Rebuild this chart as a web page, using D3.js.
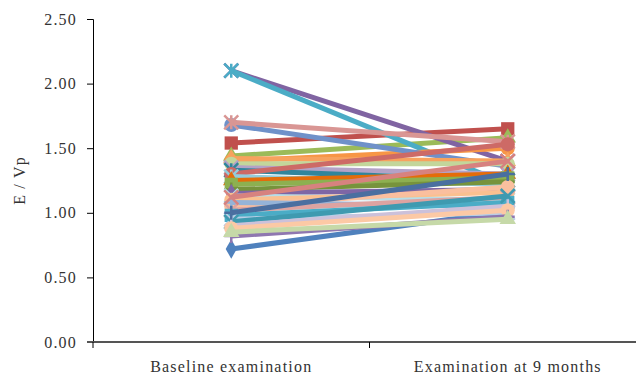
<!DOCTYPE html>
<html lang="en">
<head>
<meta charset="utf-8">
<script src="https://d3js.org/d3.v7.min.js"></script>
<style>
  body { margin: 0; background: #fff; }
  text { font-family: "Liberation Serif", "DejaVu Serif", serif; fill: #333; }
</style>
</head>
<body>
<div id="chart"></div>
<script>
// categories and tick labels
const categories = ["Baseline examination", "Examination at 9 months"];
const yTicks = [0, 0.5, 1.0, 1.5, 2.0, 2.5];

// one pair of values per patient: [baseline, 9 months]
const baseline = [0.72, 1.54, 1.44, 2.10, 2.10, 1.40, 1.68, 1.70, 1.42, 1.38,
                  1.35, 1.33, 1.30, 1.28, 1.25, 1.22, 1.18, 1.15, 1.13, 1.10,
                  1.05, 1.08, 1.02, 0.98, 0.95, 0.93, 0.90, 0.88, 0.82, 0.85,
                  1.00, 1.12];
const month9   = [1.01, 1.65, 1.58, 1.40, 1.22, 1.50, 1.36, 1.55, 1.40, 1.38,
                  1.30, 1.25, 1.53, 1.22, 1.30, 1.27, 1.24, 1.18, 1.10, 1.16,
                  1.20, 1.05, 1.12, 1.08, 1.00, 1.13, 1.05, 1.02, 0.97, 0.95,
                  1.30, 1.40];
const colors   = ["#4F81BD", "#C0504D", "#9BBB59", "#8064A2", "#4BACC6", "#F79646", "#6F91C9", "#D99694",
                  "#F7A25E", "#C3D69B", "#B3A2C7", "#31859C", "#CD6A66", "#93CDDD", "#E46C0A", "#8DB050",
                  "#77933C", "#7E66A5", "#B7DEE8", "#FAC090", "#FABF9E", "#95B3D7", "#DDA3A1", "#4BACC6",
                  "#B9CDE5", "#3F9AB0", "#CCC1DA", "#FCC9A5", "#8F77B0", "#C6D9A8", "#4A6FA0", "#D7827F"];
const markers  = ["diamond", "square", "triangle", "x", "star", "circle", "circle", "star",
                  "triangle", "circle", "x", "star", "circle", "star", "triangle", "square",
                  "plus", "diamond", "x", "circle", "circle", "plus", "x", "square",
                  "star", "x", "plus", "circle", "plus", "triangle", "plus", "x"];

const width = 636, height = 376;
const margin = {left: 93, top: 19, bottom: 34};

const svg = d3.select("#chart").append("svg")
  .attr("width", width).attr("height", height);

const x = d3.scaleBand().domain(categories).range([93, 646]);
const y = d3.scaleLinear().domain([0, 2.5]).range([height - margin.bottom, margin.top]);
const cx = c => x(c) + x.bandwidth() / 2;

// y axis
const yAxis = svg.append("g").attr("transform", `translate(${margin.left},0)`)
  .call(d3.axisLeft(y).tickValues(yTicks).tickFormat(d3.format(".2f")).tickSize(6).tickPadding(10));
yAxis.select(".domain").attr("stroke", "#000").attr("stroke-width", 1);
yAxis.selectAll(".tick line").attr("stroke", "#000");
yAxis.selectAll("text").style("font-size", "16px").style("letter-spacing", "1.2px");

// x axis
const xAxis = svg.append("g").attr("transform", `translate(0,${y(0)})`);
xAxis.append("line").attr("x1", margin.left - 6).attr("x2", width)
  .attr("stroke", "#555").attr("stroke-width", 2);
xAxis.selectAll(".tk").data([x.range()[0], x(categories[1]), x.range()[1]])
  .join("line").attr("x1", d => d).attr("x2", d => d).attr("y1", 0).attr("y2", 6)
  .attr("stroke", "#000");
xAxis.selectAll(".cat").data(categories).join("text")
  .attr("x", d => cx(d)).attr("y", 30).attr("text-anchor", "middle")
  .style("font-size", "16px").style("letter-spacing", "1.2px")
  .text(d => d);

// y label
svg.append("text")
  .attr("transform", `translate(25,${(y(0) + y(2.5)) / 2}) rotate(-90)`)
  .attr("text-anchor", "middle")
  .style("font-size", "16px").style("letter-spacing", "1.2px")
  .text("E / Vp");

// markers
function markerPath(type, s) {
  const h = s / 2;
  switch (type) {
    case "diamond": return d3.symbol(d3.symbolDiamond, s * s * 0.55)();
    case "square": return d3.symbol(d3.symbolSquare, s * s * 0.9)();
    case "triangle": return d3.symbol(d3.symbolTriangle, s * s * 0.6)();
    case "circle": return d3.symbol(d3.symbolCircle, s * s * 0.8)();
    case "x": return `M${-h},${-h}L${h},${h}M${-h},${h}L${h},${-h}`;
    case "plus": return `M${-h},0L${h},0M0,${-h}L0,${h}`;
    case "star": return `M${-h},${-h}L${h},${h}M${-h},${h}L${h},${-h}M0,${-h}L0,${h}`;
  }
}

const series = baseline.map((b, i) => ({
  values: [b, month9[i]], color: colors[i], marker: markers[i]
}));

const line = d3.line().x((d, j) => cx(categories[j])).y(d => y(d));

const g = svg.append("g");
series.forEach(s => {
  const sg = g.append("g");
  sg.append("path").attr("d", line(s.values))
    .attr("fill", "none").attr("stroke", s.color).attr("stroke-width", 5);
  const open = s.marker === "x" || s.marker === "plus" || s.marker === "star";
  sg.selectAll("path.m").data(s.values).join("path").attr("class", "m")
    .attr("transform", (d, j) => `translate(${cx(categories[j])},${y(d)})`)
    .attr("d", markerPath(s.marker, 14))
    .attr("fill", open ? "none" : s.color)
    .attr("stroke", s.color)
    .attr("stroke-width", open ? 2.5 : 0);
});
</script>
</body>
</html>
